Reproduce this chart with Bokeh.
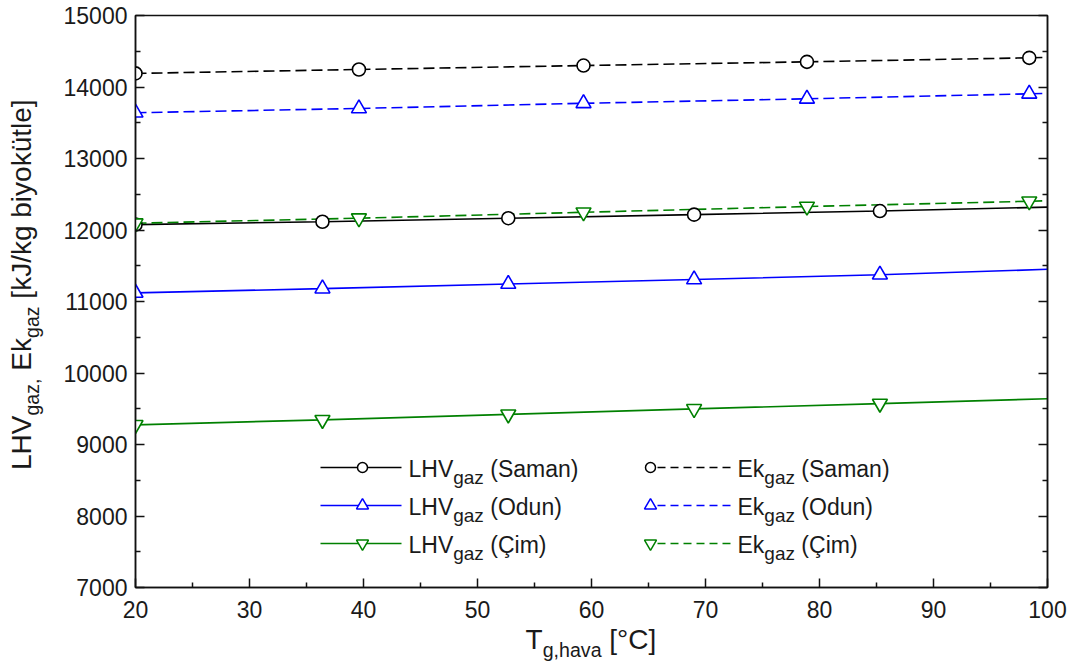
from bokeh.plotting import figure
from bokeh.models import Range1d, LinearAxis, FixedTicker, Label, Div
from bokeh.layouts import row, column
from bokeh.embed import file_html
from bokeh.resources import INLINE

# ---------------- data ----------------
x_lhv = [20, 36.4, 52.7, 69.0, 85.3, 100]
x_ek = [20, 39.6, 59.3, 78.9, 98.4, 100]

lhv_saman = [12075, 12115, 12165, 12215, 12265, 12320]
lhv_odun = [11120, 11180, 11245, 11308, 11375, 11450]
lhv_cim = [9275, 9345, 9422, 9498, 9572, 9640]

ek_saman = [14190, 14245, 14300, 14352, 14408, 14415]
ek_odun = [13640, 13700, 13772, 13835, 13905, 13912]
ek_cim = [12095, 12165, 12248, 12328, 12402, 12410]

x_ticks = [20, 30, 40, 50, 60, 70, 80, 90, 100]
y_ticks = [7000, 8000, 9000, 10000, 11000, 12000, 13000, 14000, 15000]

series_names = ["Saman", "Odun", "Çim"]

# ---------------- layout ----------------
W, H = 1075, 672
YW = 45            # width of the y-title strip
PH = 628           # height of the figure
PW = W - YW
FL, FR, FT, FB = 135, 1047, 15, 587   # frame in page pixels
XMIN, XMAX, YMIN, YMAX = 20, 100, 7000, 15000
FONT = "Liberation Sans"


def sx(px):
    return XMIN + (px - FL) * (XMAX - XMIN) / (FR - FL)


def sy(py):
    return YMAX - (py - FT) * (YMAX - YMIN) / (FB - FT)


p = figure(width=PW, height=PH, x_range=Range1d(XMIN, XMAX), y_range=Range1d(YMIN, YMAX),
           output_backend="svg", toolbar_location=None,
           min_border_left=FL - YW, min_border_right=W - FR, min_border_top=FT,
           min_border_bottom=PH - FB)
p.xgrid.visible = False
p.ygrid.visible = False
p.outline_line_color = "#111111"
p.outline_line_width = 1.5
p.background_fill_color = "white"
p.border_fill_color = "white"

x_minor = [(a + b) / 2 for a, b in zip(x_ticks[:-1], x_ticks[1:])]
y_minor = [(a + b) / 2 for a, b in zip(y_ticks[:-1], y_ticks[1:])]


def style_axis(ax, standoff):
    ax.axis_line_color = "#111111"
    ax.axis_line_width = 1.5
    ax.major_tick_in = 9
    ax.major_tick_out = 0
    ax.minor_tick_in = 5
    ax.minor_tick_out = 0
    ax.major_tick_line_color = "#111111"
    ax.minor_tick_line_color = "#111111"
    ax.major_tick_line_width = 1.5
    ax.minor_tick_line_width = 1.5
    ax.major_label_text_font = FONT
    ax.major_label_text_font_size = "23px"
    ax.major_label_text_color = "#1a1a1a"
    ax.major_label_standoff = standoff


p.xaxis.ticker = FixedTicker(ticks=x_ticks, minor_ticks=x_minor)
p.yaxis.ticker = FixedTicker(ticks=y_ticks, minor_ticks=y_minor)
style_axis(p.xaxis[0], 13)
style_axis(p.yaxis[0], 8)

ry = LinearAxis(ticker=FixedTicker(ticks=y_ticks, minor_ticks=y_minor),
                major_label_overrides={t: "" for t in y_ticks})
style_axis(ry, 0)
p.add_layout(ry, "right")

# ---------------- series ----------------
colors = ["#000000", "#0000ff", "#008000"]
markers = ["circle", "triangle", "inverted_triangle"]
msizes = [13, 15, 15]
lhv_all = [lhv_saman, lhv_odun, lhv_cim]
ek_all = [ek_saman, ek_odun, ek_cim]

for ys, c in zip(lhv_all, colors):
    p.line(x_lhv, ys, line_color=c, line_width=1.6)
for ys, c in zip(ek_all, colors):
    p.line(x_ek, ys, line_color=c, line_width=1.6, line_dash="11 5")
for ys, c, m, ms in zip(lhv_all, colors, markers, msizes):
    p.scatter(x_lhv[:5], ys[:5], marker=m, size=ms, fill_color="white",
              line_color=c, line_width=1.6)
for ys, c, m, ms in zip(ek_all, colors, markers, msizes):
    p.scatter(x_ek[:5], ys[:5], marker=m, size=ms, fill_color="white",
              line_color=c, line_width=1.6)

# ---------------- text helpers ----------------
AW = {' ': 278, '(': 333, ')': 333, ',': 278, '[': 278, ']': 278, '/': 278, '°': 400,
      'C': 722, 'E': 667, 'H': 722, 'L': 556, 'O': 778, 'S': 667, 'T': 611, 'V': 667,
      'J': 500, 'Ç': 722, 'a': 556, 'b': 556, 'd': 556, 'e': 556, 'g': 556, 'h': 556,
      'i': 222, 'k': 500, 'l': 222, 'm': 833, 'n': 556, 'o': 556, 't': 278, 'u': 556,
      'ü': 556, 'v': 500, 'y': 500, 'z': 500}


def tw(s, size):
    return sum(AW.get(ch, 556) for ch in s) * size / 1000.0


def text_run(pieces, x0, base):
    """pieces: list of (text, font_px, baseline_shift_px), placed in page pixels."""
    pos = 0.0
    for txt, size, dy in pieces:
        lead = len(txt) - len(txt.lstrip(" "))
        pos += tw(" " * lead, size)
        t = txt.lstrip(" ")
        p.add_layout(Label(x=sx(x0 + pos), y=sy(base + dy), text=t,
                           text_font=FONT, text_font_size=f"{size}px",
                           text_color="#1a1a1a", text_align="left",
                           text_baseline="alphabetic"))
        pos += tw(t, size)


# ---------------- legend ----------------
LS, LSS, LDY = 23, 19, 8
rows = [468, 506, 544]
for i, (name, c, m) in enumerate(zip(series_names, colors, markers)):
    r = rows[i]
    lm = 10 if m == "circle" else 12
    # column 1: LHV
    p.line([sx(320), sx(401)], [sy(r - 1), sy(r - 1)], line_color=c, line_width=1.6)
    p.scatter([sx(362)], [sy(r - 1)], marker=m, size=lm, fill_color="white",
              line_color=c, line_width=1.5)
    text_run([("LHV", LS, 0), ("gaz", LSS, LDY), (f" ({name})", LS, 0)], 408, r + 0.5)
    # column 2: Ek
    p.line([sx(657), sx(733)], [sy(r - 1), sy(r - 1)], line_color=c, line_width=1.6,
           line_dash="8 5")
    p.scatter([sx(650)], [sy(r - 1)], marker=m, size=lm, fill_color="white",
              line_color=c, line_width=1.5)
    text_run([("Ek", LS, 0), ("gaz", LSS, LDY), (f" ({name})", LS, 0)], 737, r + 0.5)

# ---------------- axis titles (HTML text with subscripts) ----------------
TS, SS = 28, 19.6
SUB = f"font-size:{SS}px;vertical-align:-8px;line-height:0;"
BASE = f"font-family:'{FONT}';font-size:{TS}px;line-height:{TS}px;color:#1a1a1a;white-space:nowrap;"

xt_w = tw("T", TS) + tw("g,hava", SS) + tw(" [°C]", TS)
x_start = (FL + FR) / 2 - xt_w / 2 - YW
xdiv = Div(text=(f'<div style="width:{PW}px;height:{H - PH}px;position:relative;overflow:visible;">'
                 f'<div style="position:absolute;left:{x_start:.1f}px;top:-2px;{BASE}">'
                 f'T<sub style="{SUB}">g,hava</sub> [°C]</div></div>'),
           width=PW, height=H - PH, margin=(0, 0, 0, 0))

ydiv = Div(text=(f'<div style="width:{YW}px;height:{H}px;position:relative;overflow:visible;">'
                 f'<div style="position:absolute;left:8px;top:470px;transform:rotate(-90deg);'
                 f'transform-origin:0 0;{BASE}">'
                 f'LHV<sub style="{SUB}">gaz,</sub> Ek<sub style="{SUB}">gaz</sub> '
                 f'[kJ/kg biyokütle]</div></div>'),
           width=YW, height=H, margin=(0, 0, 0, 0))

layout = row(ydiv, column(p, xdiv, spacing=0), spacing=0)

open("out.html", "w").write(file_html(layout, INLINE))
